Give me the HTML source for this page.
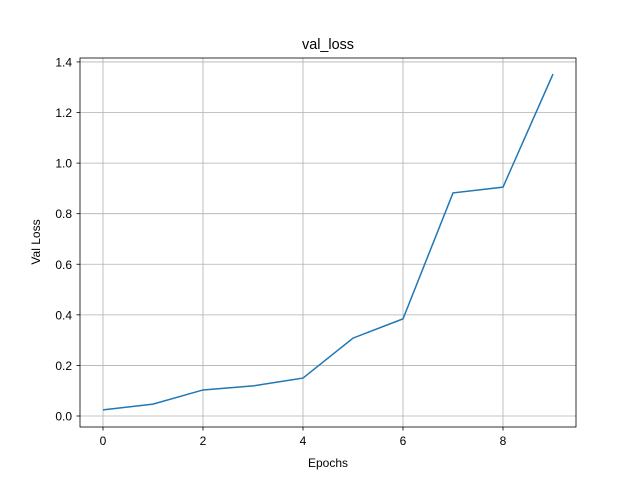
<!DOCTYPE html>
<html><head><meta charset="utf-8"><style>
body{margin:0;background:#fff;}
svg{display:block;font-family:"Liberation Sans","DejaVu Sans",sans-serif;}
</style></head><body>
<svg id="chart" width="640" height="480">
<rect width="640" height="480" fill="#fff"/>
<g id="grid"></g>
<g id="ticks"></g>
<polyline id="line" fill="none" stroke="#1f77b4" stroke-width="1.5"/>
<rect x="80" y="58" width="496" height="369" fill="none" stroke="#000" stroke-width="0.8"/>
<text x="328" y="49" text-anchor="middle" font-size="14.4">val_loss</text>
<text x="328" y="467" text-anchor="middle" font-size="12">Epochs</text>
<text transform="translate(40,242) rotate(-90)" text-anchor="middle" font-size="12">Val Loss</text>
</svg>
<script>
const epochs=[0,1,2,3,4,5,6,7,8,9];
const valLoss=[0.024,0.047,0.103,0.119,0.150,0.308,0.384,0.882,0.905,1.352];
const xTicks=[0,2,4,6,8];
const yTicks=[0.0,0.2,0.4,0.6,0.8,1.0,1.2,1.4];
const xs=v=>103+v*50;
const ys=v=>416-v*252.9;
const ns="http://www.w3.org/2000/svg";
const grid=document.getElementById('grid'),ticks=document.getElementById('ticks');
function mk(tag,attrs,parent){const e=document.createElementNS(ns,tag);for(const k in attrs)e.setAttribute(k,attrs[k]);parent.appendChild(e);return e;}
xTicks.forEach(t=>{
  const x=xs(t);
  const g=mk('line',{x1:x,x2:x,y1:58,y2:427,stroke:'#b0b0b0','stroke-width':0.8},grid);
  
  
  const tk=mk('line',{x1:x,x2:x,y1:427,y2:430.5,stroke:'#000','stroke-width':0.8},ticks);
  
  
  const tx=mk('text',{x:x,y:445,'text-anchor':'middle','font-size':12},ticks);
  tx.textContent=t;
  
  
});
yTicks.forEach(t=>{
  const y=ys(t);
  const g=mk('line',{x1:80,x2:576,y1:y,y2:y,stroke:'#b0b0b0','stroke-width':0.8},grid);
  
  
  const tk=mk('line',{x1:76.5,x2:80,y1:y,y2:y,stroke:'#000','stroke-width':0.8},ticks);
  
  
  const tx=mk('text',{x:72,y:y+4.5,'text-anchor':'end','font-size':12},ticks);
  tx.textContent=t.toFixed(1);
  
  
});
document.getElementById('line').setAttribute('points',epochs.map((e,i)=>xs(e)+','+ys(valLoss[i])).join(' '));
</script>
</body></html>
